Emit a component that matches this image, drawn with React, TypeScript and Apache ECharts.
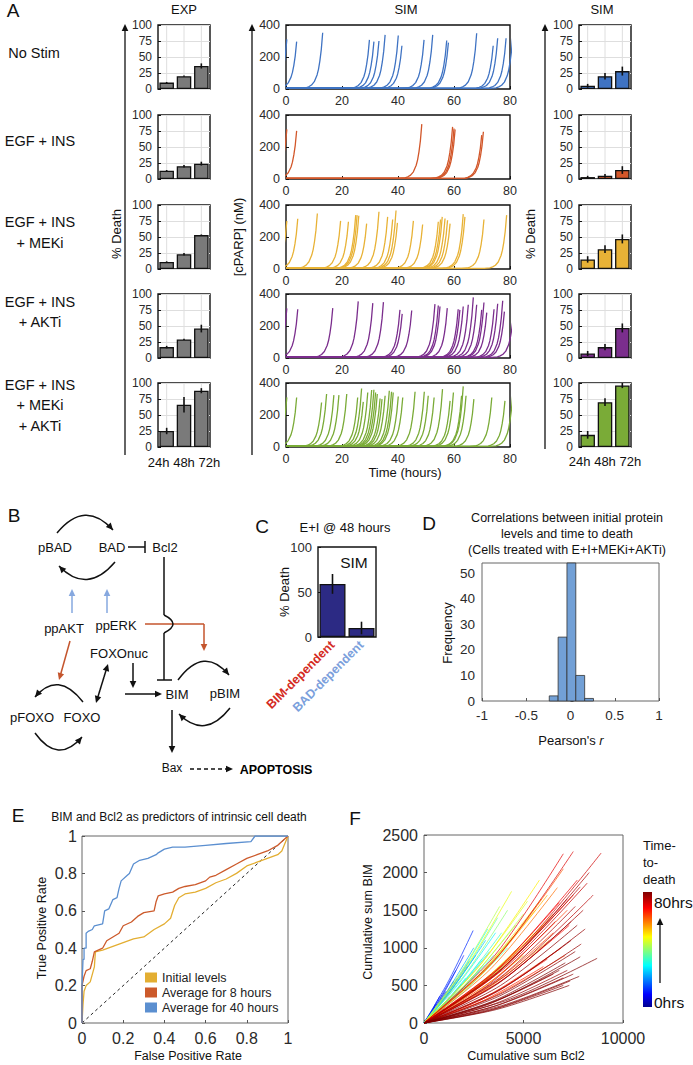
import React, { useEffect, useRef } from 'react';
import * as echarts from 'echarts';

const FONT = '"Liberation Sans", Arial, Helvetica, sans-serif';
const TXT = '#2a2a2a';

// ---------- Panel A data ----------
const CATS = ['24h', '48h', '72h'];
const ROW_LABELS = [['No Stim'], ['EGF + INS'], ['EGF + INS', '+ MEKi'], ['EGF + INS', '+ AKTi'], ['EGF + INS', '+ MEKi', '+ AKTi']];
const EXP_MEAN = [[10, 20, 36], [13, 20, 24], [11, 23, 53], [17, 29, 46], [25, 66, 88]];
const EXP_ERR = [[1, 1, 4], [1, 2, 3], [1, 2, 1], [2, 1, 6], [5, 12, 4]];
const SIM_MEAN = [[5, 20, 28], [3, 5, 14], [15, 31, 47], [7, 17, 47], [19, 70, 96]];
const SIM_ERR = [[3, 5, 7], [2, 3, 6], [5, 6, 7], [4, 5, 7], [6, 6, 4]];
const ROW_COLORS = ['#3f73c3', '#d2572a', '#e8b236', '#7b2e8d', '#7aab37'];
const EXP_COLOR = '#7a7a7a';

// cPARP rise shape (hours before death, fraction of peak)
const SHAPE_DT = [-8, -6, -5, -4, -3, -2, -1.5, -1, -0.5, 0];
const SHAPE_FRAC = [0, 0.02, 0.04, 0.07, 0.13, 0.25, 0.35, 0.5, 0.7, 1];
const BASELINE = 4;

// time of death (h) and peak cPARP (nM) per simulated cell, per condition
const TD_NOSTIM = [0.3, 3.8, 13.1, 29.8, 31.4, 33.2, 35.4, 40.1, 41.4, 49.3, 52.4, 57.4, 58, 68.1, 74, 75.6, 78.6, 81];
const PK_NOSTIM = [310, 296, 352, 307, 296, 300, 338, 334, 270, 307, 338, 303, 290, 348, 270, 317, 317, 330];
const TD_EI = [0.3, 3.8, 48.5, 59.5, 60, 60.4, 69.9, 70.5];
const PK_EI = [310, 301, 343, 326, 316, 309, 274, 295];
const TD_MEKI = [0.3, 4.2, 11.2, 19.5, 22.3, 24.9, 25.4, 26, 28.8, 33.2, 36.3, 38.1, 39.3, 39.8, 45.5, 48.8, 54.4, 55.2, 55.8, 56.8, 57.7, 58.6, 63.3, 63.9, 70.7, 78.8];
const PK_MEKI = [300, 314, 347, 301, 295, 337, 337, 333, 284, 358, 326, 309, 366, 288, 301, 278, 295, 309, 326, 316, 305, 284, 343, 326, 309, 337];
const TD_AKTI = [0.3, 4.2, 16.7, 25.8, 31, 34.8, 40.7, 41.5, 44.9, 53.2, 54.4, 55, 57.6, 61.5, 62.1, 63.3, 65.1, 66.9, 68.1, 69.9, 70.7, 71.7, 74.3, 75.6, 77.4, 78, 81.5];
const PK_AKTI = [310, 305, 312, 354, 343, 349, 301, 276, 297, 337, 328, 322, 312, 305, 301, 322, 333, 379, 333, 301, 347, 284, 305, 339, 358, 290, 330];
const TD_BOTH = [0.3, 3.8, 12.7, 14.5, 17.1, 18.9, 21.7, 25.6, 27, 27.6, 29.2, 30.6, 31.4, 32, 32.6, 33.6, 34.3, 35.4, 36.9, 37.7, 38.3, 40.1, 41.7, 46.1, 49.4, 50.8, 52.9, 55.9, 58.6, 59.8, 62.7, 63.3, 64.3, 67.1, 73.5, 78.2, 81];
const PK_BOTH = [310, 309, 278, 331, 324, 324, 331, 309, 366, 282, 341, 356, 358, 341, 331, 303, 299, 320, 352, 345, 341, 316, 309, 345, 345, 320, 309, 362, 288, 341, 320, 379, 320, 299, 309, 288, 330];
const SIM_TD = [TD_NOSTIM, TD_EI, TD_MEKI, TD_AKTI, TD_BOTH];
const SIM_PK = [PK_NOSTIM, PK_EI, PK_MEKI, PK_AKTI, PK_BOTH];

// ---------- Panel C ----------
const C_CATS = ['BIM-dependent', 'BAD-dependent'];
const C_MEAN = [59, 10];
const C_ERR = [11, 7];
const C_LABEL_COLORS = ['#d42a22', '#7b9fdc'];

// ---------- Panel D ----------
const HIST_LO = [-0.24, -0.14, -0.04, 0.06, 0.16];
const HIST_W = 0.1;
const HIST_COUNT = [2, 25, 54, 10, 1];

// ---------- Panel E ----------
const ROC_INITIAL = [[0, 0], [0.005, 0.1], [0.01, 0.17], [0.02, 0.2], [0.04, 0.22], [0.06, 0.3], [0.065, 0.38], [0.1, 0.39], [0.15, 0.41], [0.2, 0.43], [0.25, 0.45], [0.3, 0.46], [0.35, 0.5], [0.4, 0.53], [0.43, 0.56], [0.45, 0.63], [0.47, 0.67], [0.5, 0.69], [0.55, 0.7], [0.6, 0.72], [0.65, 0.75], [0.7, 0.77], [0.75, 0.8], [0.8, 0.84], [0.85, 0.86], [0.9, 0.88], [0.95, 0.9], [0.97, 0.92], [1, 1]];
const ROC_8H = [[0, 0], [0, 0.2], [0.01, 0.25], [0.02, 0.28], [0.04, 0.29], [0.05, 0.33], [0.06, 0.38], [0.1, 0.4], [0.12, 0.44], [0.15, 0.46], [0.18, 0.48], [0.2, 0.52], [0.24, 0.54], [0.27, 0.57], [0.3, 0.59], [0.35, 0.6], [0.36, 0.65], [0.37, 0.68], [0.4, 0.69], [0.44, 0.7], [0.47, 0.72], [0.5, 0.73], [0.55, 0.74], [0.6, 0.76], [0.62, 0.78], [0.65, 0.79], [0.7, 0.82], [0.75, 0.85], [0.8, 0.88], [0.85, 0.9], [0.9, 0.92], [0.95, 0.95], [1, 1]];
const ROC_40H = [[0, 0], [0, 0.2], [0.005, 0.34], [0.01, 0.34], [0.01, 0.4], [0.02, 0.4], [0.02, 0.48], [0.03, 0.49], [0.05, 0.5], [0.06, 0.52], [0.1, 0.53], [0.11, 0.6], [0.13, 0.61], [0.15, 0.66], [0.17, 0.67], [0.18, 0.72], [0.19, 0.76], [0.22, 0.79], [0.23, 0.8], [0.25, 0.85], [0.28, 0.87], [0.32, 0.88], [0.36, 0.9], [0.37, 0.91], [0.4, 0.93], [0.44, 0.94], [0.5, 0.94], [0.6, 0.95], [0.7, 0.96], [0.82, 0.97], [0.84, 1], [1, 1]];
const ROC_NAMES = ['Initial levels', 'Average for 8 hours', 'Average for 40 hours'];
const ROC_COLORS = ['#e3ae32', '#cc5a2b', '#5b8fd0'];

// ---------- Panel F: trajectories [end Bcl2, end BIM, BIM at half-way, time-to-death h] ----------
const F_LINES = [
  [600, 250, 110, 3], [900, 330, 150, 5], [1100, 420, 190, 6], [1300, 350, 160, 7], [1000, 200, 90, 8], [1500, 560, 250, 9],
  [1700, 600, 270, 10], [2000, 900, 400, 11], [2470, 1230, 560, 12], [1800, 480, 220, 13], [2200, 760, 340, 14], [1200, 280, 130, 15],
  [1600, 700, 330, 12], [800, 360, 170, 8],
  [1900, 520, 240, 18], [2300, 830, 380, 20], [2600, 900, 410, 22], [3100, 1100, 500, 24], [2800, 700, 320, 25], [3300, 950, 430, 26],
  [2100, 600, 270, 27], [3600, 1200, 540, 28], [2500, 1000, 460, 23], [3000, 780, 350, 21],
  [3200, 1250, 560, 30], [3500, 900, 400, 32], [3900, 1200, 530, 33], [4200, 1000, 440, 35], [3700, 1400, 620, 36], [4500, 1150, 500, 37],
  [2900, 850, 380, 31], [4000, 760, 330, 38],
  [4200, 1500, 660, 40], [4600, 1300, 570, 42], [5000, 1450, 630, 44], [4800, 1000, 430, 45], [5200, 1620, 700, 46], [4400, 1750, 780, 47],
  [5500, 1200, 510, 48], [3800, 1550, 700, 43],
  [5800, 1900, 800, 50], [5600, 1500, 640, 52], [6000, 1300, 540, 53], [6200, 1700, 700, 55], [5400, 1100, 460, 56], [6500, 1450, 600, 57],
  [5000, 900, 380, 54], [6300, 1100, 450, 58], [5900, 1650, 690, 51],
  [6700, 1800, 720, 60], [7000, 2050, 820, 62], [6500, 1200, 480, 63], [7200, 1500, 600, 64], [6900, 1000, 400, 65], [7500, 1700, 680, 66],
  [6200, 850, 340, 67], [7300, 1300, 520, 68], [6800, 1600, 640, 69], [7700, 1900, 760, 70], [6000, 750, 300, 66], [7100, 900, 360, 64],
  [7000, 2250, 880, 71], [7500, 2280, 900, 72], [8900, 2260, 880, 73], [8200, 1860, 740, 74], [7850, 1810, 720, 75], [7600, 1550, 600, 76],
  [7400, 1100, 420, 77], [7200, 700, 260, 78], [7350, 560, 200, 79], [7850, 880, 330, 80], [7500, 650, 240, 79], [7000, 600, 220, 78],
  [7300, 500, 180, 80], [8000, 1500, 580, 77], [8300, 2000, 780, 76], [7700, 1300, 500, 79], [6800, 700, 270, 80], [7900, 1050, 400, 78],
  [8500, 1700, 660, 75], [7100, 800, 300, 80], [7600, 950, 360, 79], [8100, 1250, 480, 78], [6500, 650, 250, 77], [7400, 1350, 520, 76],
  [8700, 860, 320, 80], [7800, 620, 230, 80], [7200, 1650, 640, 74], [6600, 1350, 520, 73], [7000, 500, 180, 79],
];
const TTD_MAX = 80;
const JET_STOPS: [number, string][] = [[0, '#00008f'], [0.11, '#0000ff'], [0.36, '#00ffff'], [0.61, '#ffff00'], [0.86, '#ff0000'], [1, '#800000']];

function hexToRgb(h: string) {
  return [parseInt(h.slice(1, 3), 16), parseInt(h.slice(3, 5), 16), parseInt(h.slice(5, 7), 16)];
}
function jet(t: number) {
  t = Math.max(0, Math.min(1, t));
  for (let i = 1; i < JET_STOPS.length; i++) {
    if (t <= JET_STOPS[i][0]) {
      const [t0, c0] = JET_STOPS[i - 1];
      const [t1, c1] = JET_STOPS[i];
      const f = (t - t0) / (t1 - t0);
      const a = hexToRgb(c0), b = hexToRgb(c1);
      const c = a.map((v, k) => Math.round(v + (b[k] - v) * f));
      return `rgb(${c[0]},${c[1]},${c[2]})`;
    }
  }
  return JET_STOPS[JET_STOPS.length - 1][1];
}

function txt(x: number, y: number, text: string, o: any = {}) {
  return {
    type: 'text', x, y, rotation: o.rotation || 0, silent: true, z: 50,
    style: {
      text, fontSize: o.size || 13, fontFamily: FONT, fill: o.color || '#111', fontWeight: o.weight || 'normal',
      align: o.align || 'center', verticalAlign: 'middle', textAlign: o.align || 'center', textVerticalAlign: 'middle',
      rich: o.rich,
    },
  };
}
function head(tx: number, ty: number, ang: number, color: string, len = 7, w = 3.3) {
  const c = Math.cos(ang), s = Math.sin(ang);
  return {
    type: 'polygon', silent: true, z: 50,
    shape: { points: [[tx, ty], [tx - len * c + w * s, ty - len * s - w * c], [tx - len * c - w * s, ty - len * s + w * c]] },
    style: { fill: color },
  };
}
function seg(x1: number, y1: number, x2: number, y2: number, color = '#111', lw = 1.5, dash?: number[]) {
  return { type: 'line', silent: true, z: 50, shape: { x1, y1, x2, y2 }, style: { stroke: color, lineWidth: lw, lineDash: dash } };
}
function arrow(x1: number, y1: number, x2: number, y2: number, color = '#111', lw = 1.5, dash?: number[]) {
  const ang = Math.atan2(y2 - y1, x2 - x1);
  return [seg(x1, y1, x2 - 5 * Math.cos(ang), y2 - 5 * Math.sin(ang), color, lw, dash), head(x2, y2, ang, color)];
}
function arc(x1: number, y1: number, cx: number, cy: number, x2: number, y2: number) {
  const ang = Math.atan2(y2 - cy, x2 - cx);
  return [
    { type: 'bezierCurve', silent: true, z: 50, shape: { x1, y1, x2, y2, cpx1: cx, cpy1: cy }, style: { stroke: '#111', lineWidth: 1.5, fill: null } },
    head(x2, y2, ang, '#111'),
  ];
}

const plain = (v: number) => String(v);

function buildOption() {
  const grid: any[] = [];
  const xAxis: any[] = [];
  const yAxis: any[] = [];
  const series: any[] = [];
  const els: any[] = [];
  let gi = 0;
  const addGrid = (left: number, top: number, width: number, height: number, xa: any, ya: any, border = '#111', bw = 1.4) => {
    grid.push({ left, top, width, height, show: true, borderColor: border, borderWidth: bw, backgroundColor: '#fff' });
    xAxis.push({ ...xa, gridIndex: gi });
    yAxis.push({ ...ya, gridIndex: gi });
    return gi++;
  };
  const tick = (color = '#111') => ({ show: true, inside: true, length: 3, lineStyle: { color, width: 1 } });
  const lab = (size: number, margin: number, extra: any = {}) => ({ fontSize: size, color: TXT, margin, fontFamily: FONT, ...extra });

  const vgrid = (params: any, api: any) => {
    const a = api.coord([api.value(0), 100]);
    const b = api.coord([api.value(0), 0]);
    return { type: 'line', shape: { x1: a[0], y1: a[1], x2: b[0], y2: b[1] }, style: { stroke: '#dedede', lineWidth: 1 } };
  };
  const errBar = (params: any, api: any) => {
    const a = api.coord([api.value(0), api.value(1)]);
    const b = api.coord([api.value(0), api.value(2)]);
    return { type: 'line', shape: { x1: a[0], y1: a[1], x2: b[0], y2: b[1] }, style: { stroke: '#111', lineWidth: 1.6 } };
  };

  const ROW_TOPS = [25, 115, 205, 294, 383];
  const ROW_H = 64;

  const addBarPanel = (left: number, top: number, means: number[], errs: number[], color: string) => {
    const idx = addGrid(left, top, 52, ROW_H,
      { type: 'category', data: CATS, axisLine: { show: false }, axisTick: { show: false }, axisLabel: { show: false } },
      {
        type: 'value', min: 0, max: 100, interval: 25, axisLine: { show: false }, axisTick: tick(),
        axisLabel: lab(12, 6), splitLine: { show: true, lineStyle: { color: '#dedede', width: 1 } },
      });
    series.push({ type: 'custom', xAxisIndex: idx, yAxisIndex: idx, z: 1, silent: true, data: CATS.map((c, i) => [i, 0]), renderItem: vgrid });
    series.push({
      type: 'bar', xAxisIndex: idx, yAxisIndex: idx, data: means, barWidth: '84%', z: 2, silent: true,
      itemStyle: { color, borderColor: '#111', borderWidth: 1.3 },
    });
    series.push({
      type: 'custom', xAxisIndex: idx, yAxisIndex: idx, z: 3, silent: true, encode: { x: 0, y: [1, 2] },
      data: means.map((m, i) => [i, Math.max(0, m - errs[i]), m + errs[i]]), renderItem: errBar,
    });
  };

  const addLinePanel = (top: number, tds: number[], pks: number[], color: string) => {
    const idx = addGrid(286, top, 224, ROW_H,
      { type: 'value', min: 0, max: 80, interval: 20, axisLine: { show: false }, axisTick: tick(), axisLabel: lab(12.5, 5), splitLine: { show: false } },
      { type: 'value', min: 0, max: 400, interval: 200, axisLine: { show: false }, axisTick: tick(), axisLabel: lab(12.5, 6), splitLine: { show: false } });
    tds.forEach((td, k) => {
      const pk = pks[k];
      const pts: number[][] = [];
      if (td + SHAPE_DT[0] > 0) pts.push([0, BASELINE]);
      SHAPE_DT.forEach((dt, j) => pts.push([td + dt, Math.max(BASELINE, SHAPE_FRAC[j] * pk)]));
      series.push({
        type: 'line', xAxisIndex: idx, yAxisIndex: idx, data: pts, showSymbol: false, symbol: 'none', silent: true, clip: true,
        lineStyle: { color, width: 1.3 }, itemStyle: { color },
      });
    });
  };

  for (let r = 0; r < 5; r++) {
    addBarPanel(158, ROW_TOPS[r], EXP_MEAN[r], EXP_ERR[r], EXP_COLOR);
    addLinePanel(ROW_TOPS[r], SIM_TD[r], SIM_PK[r], ROW_COLORS[r]);
    addBarPanel(579, ROW_TOPS[r], SIM_MEAN[r], SIM_ERR[r], ROW_COLORS[r]);
  }

  // ---- Panel C
  const cIdx = addGrid(318, 547, 58, 90,
    {
      type: 'category', data: C_CATS, axisLine: { show: false }, axisTick: { show: false },
      axisLabel: lab(12.5, 6, { rotate: 45, fontWeight: 'bold', color: (v: any, i: number) => C_LABEL_COLORS[i] }),
    },
    { type: 'value', min: 0, max: 100, interval: 50, axisLine: { show: false }, axisTick: tick(), axisLabel: lab(13, 6), splitLine: { show: false } });
  series.push({
    type: 'bar', xAxisIndex: cIdx, yAxisIndex: cIdx, data: C_MEAN, barWidth: 26, silent: true,
    itemStyle: { color: '#2c2a84', borderColor: '#111', borderWidth: 1.3 },
  });
  series.push({
    type: 'custom', xAxisIndex: cIdx, yAxisIndex: cIdx, z: 3, silent: true, encode: { x: 0, y: [1, 2] },
    data: C_MEAN.map((m, i) => [i, Math.max(0, m - C_ERR[i]), m + C_ERR[i]]), renderItem: errBar,
  });

  // ---- Panel D
  const dIdx = addGrid(482, 563, 177, 138,
    { type: 'value', min: -1, max: 1, interval: 0.5, axisLine: { show: false }, axisTick: tick('#555'), axisLabel: lab(13.5, 7), splitLine: { show: false } },
    { type: 'value', min: 0, max: 54, interval: 10, axisLine: { show: false }, axisTick: tick('#555'), axisLabel: lab(13.5, 7, { showMaxLabel: false }), splitLine: { show: false } },
    '#666', 1);
  series.push({
    type: 'custom', xAxisIndex: dIdx, yAxisIndex: dIdx, silent: true, encode: { x: [0, 1], y: 2 },
    data: HIST_LO.map((lo, i) => [lo, lo + HIST_W, HIST_COUNT[i]]),
    renderItem: (p: any, api: any) => {
      const a = api.coord([api.value(0), api.value(2)]);
      const b = api.coord([api.value(1), 0]);
      return { type: 'rect', shape: { x: a[0], y: a[1], width: b[0] - a[0], height: b[1] - a[1] }, style: { fill: '#72a0d6', stroke: '#333', lineWidth: 0.8 } };
    },
  });

  // ---- Panel E
  const eIdx = addGrid(82, 836, 206, 187,
    { type: 'value', min: 0, max: 1, interval: 0.2, axisLine: { show: false }, axisTick: tick('#555'), axisLabel: lab(16, 7), splitLine: { show: false } },
    { type: 'value', min: 0, max: 1, interval: 0.2, axisLine: { show: false }, axisTick: tick('#555'), axisLabel: lab(16, 5), splitLine: { show: false } },
    '#666', 1);
  series.push({
    type: 'line', xAxisIndex: eIdx, yAxisIndex: eIdx, data: [[0, 0], [1, 1]], showSymbol: false, symbol: 'none', silent: true,
    lineStyle: { color: '#222', width: 1, type: [3, 3] },
  });
  [ROC_INITIAL, ROC_8H, ROC_40H].forEach((d, i) => {
    series.push({
      type: 'line', name: ROC_NAMES[i], xAxisIndex: eIdx, yAxisIndex: eIdx, data: d, showSymbol: false, symbol: 'none', silent: true,
      lineStyle: { color: ROC_COLORS[i], width: 1.3 }, itemStyle: { color: ROC_COLORS[i] },
    });
  });

  // ---- Panel F
  const fIdx = addGrid(424, 835, 199, 188,
    { type: 'value', min: 0, max: 10000, interval: 5000, axisLine: { show: false }, axisTick: tick('#555'), axisLabel: lab(16, 7, { formatter: plain }), splitLine: { show: false } },
    { type: 'value', min: 0, max: 2500, interval: 500, axisLine: { show: false }, axisTick: tick('#555'), axisLabel: lab(16, 6, { formatter: plain }), splitLine: { show: false } },
    '#666', 1);
  F_LINES.slice().sort((a, b) => a[3] - b[3]).forEach(([ex, ey, my, t]) => {
    series.push({
      type: 'line', xAxisIndex: fIdx, yAxisIndex: fIdx, data: [[0, 0], [ex / 2, my], [ex, ey]], smooth: 0.3,
      showSymbol: false, symbol: 'none', silent: true, lineStyle: { width: 0.8, color: jet(t / TTD_MAX), opacity: 0.9 },
    });
  });

  // ---------- Texts & drawings ----------
  // Panel A
  els.push(txt(13, 10, 'A', { size: 19 }));
  els.push(txt(184, 9, 'EXP', { size: 13 }));
  els.push(txt(406, 9, 'SIM', { size: 13 }));
  els.push(txt(602, 9, 'SIM', { size: 13 }));
  const rowLabelY = [[53], [141], [222, 243], [302, 322], [385, 405, 426]];
  ROW_LABELS.forEach((lines, r) => lines.forEach((l, k) => els.push(txt(r === 0 ? 34 : 40, rowLabelY[r][k], l, { size: 14.5 }))));
  els.push(txt(116, 234, '% Death', { size: 13, rotation: Math.PI / 2 }));
  els.push(txt(238, 237, '[cPARP] (nM)', { size: 13, rotation: Math.PI / 2 }));
  els.push(txt(530, 234, '% Death', { size: 13, rotation: Math.PI / 2 }));
  els.push(txt(184, 462, CATS.join(' '), { size: 13 }));
  els.push(txt(605, 461, CATS.join(' '), { size: 13 }));
  els.push(txt(405, 472, 'Time (hours)', { size: 13 }));
  els.push(...arrow(125, 455, 125, 24, '#111', 1.3));
  els.push(...arrow(252, 455, 252, 24, '#111', 1.3));
  els.push(...arrow(545, 449, 545, 24, '#111', 1.3));

  // Panel B
  els.push(txt(14, 515, 'B', { size: 19 }));
  els.push(txt(55, 547, 'pBAD'), txt(112, 547, 'BAD'), txt(165, 547, 'Bcl2'));
  els.push(txt(64, 628, 'ppAKT'), txt(116, 625, 'ppERK'), txt(119, 653, 'FOXOnuc'));
  els.push(txt(177, 694, 'BIM'), txt(225, 693, 'pBIM'), txt(32, 717, 'pFOXO'), txt(82, 717, 'FOXO'));
  els.push(txt(172, 768, 'Bax', { size: 12 }), txt(276, 770, 'APOPTOSIS', { size: 12.5, weight: 'bold', color: '#000' }));
  els.push(...arc(57, 533, 85, 499, 113, 530));
  els.push(...arc(115, 562, 87, 595, 59, 566));
  els.push(seg(128, 547, 145, 547), seg(145, 541, 145, 553));
  els.push(...arrow(72, 613, 72, 589, '#86a8df'));
  els.push(...arrow(107, 613, 107, 589, '#86a8df'));
  els.push(seg(145, 624, 204, 624, '#c4552d'), ...arrow(204, 624, 204, 651, '#c4552d'));
  els.push(...arrow(70, 641, 59, 680, '#c4552d'));
  els.push(seg(164, 557, 164, 615));
  els.push({ type: 'bezierCurve', silent: true, z: 50, shape: { x1: 164, y1: 615, x2: 164, y2: 633, cpx1: 182, cpy1: 624 }, style: { stroke: '#111', lineWidth: 1.5, fill: null } });
  els.push(seg(164, 633, 164, 680), seg(157, 680, 172, 680));
  els.push(...arrow(133, 663, 133, 688));
  els.push(...arrow(125, 694, 162, 694));
  els.push(...arrow(100, 690, 96, 703), ...arrow(104, 677, 108, 664));
  els.push(seg(100, 690, 104, 677));
  els.push(...arc(178, 680, 204, 645, 229, 675));
  els.push(...arc(230, 708, 205, 740, 179, 714));
  els.push(...arc(83, 702, 58, 670, 35, 697));
  els.push(...arc(35, 733, 58, 765, 82, 737));
  els.push(...arrow(172, 710, 172, 753));
  els.push(...arrow(190, 769, 233, 769, '#111', 1.5, [4, 3]));

  // Panel C
  els.push(txt(262, 526, 'C', { size: 19 }));
  els.push(txt(345, 527, 'E+I @ 48 hours', { size: 13 }));
  els.push(txt(284, 592, '% Death', { size: 13, rotation: Math.PI / 2 }));
  els.push(txt(354, 562, 'SIM', { size: 15.5 }));

  // Panel D
  els.push(txt(429, 523, 'D', { size: 19 }));
  els.push(txt(567, 518, 'Correlations between initial protein', { size: 12.5 }));
  els.push(txt(567, 534, 'levels and time to death', { size: 12.5 }));
  els.push(txt(567, 550, '(Cells treated with E+I+MEKi+AKTi)', { size: 12.5 }));
  els.push(txt(447, 633, 'Frequency', { size: 13, rotation: Math.PI / 2 }));
  els.push(txt(571, 740, "{a|Pearson's }{b|r}", {
    size: 13, rich: { a: { fontSize: 13, fontFamily: FONT, fill: '#111' }, b: { fontSize: 13, fontFamily: FONT, fontStyle: 'italic', fill: '#111' } },
  }));

  // Panel E
  els.push(txt(18, 815, 'E', { size: 19 }));
  els.push(txt(179, 817, 'BIM and Bcl2 as predictors of intrinsic cell death', { size: 12 }));
  els.push(txt(42, 928, 'True Positive Rate', { size: 12.5, rotation: Math.PI / 2 }));
  els.push(txt(188, 1056, 'False Positive Rate', { size: 12.5 }));

  // Panel F
  els.push(txt(355, 818, 'F', { size: 19 }));
  els.push(txt(368, 922, 'Cumulative sum BIM', { size: 12.5, rotation: Math.PI / 2 }));
  els.push(txt(526, 1056, 'Cumulative sum Bcl2', { size: 12.5 }));
  els.push(txt(643, 845, 'Time-', { size: 13, align: 'left' }));
  els.push(txt(643, 862, 'to-', { size: 13, align: 'left' }));
  els.push(txt(643, 879, 'death', { size: 13, align: 'left' }));
  els.push({
    type: 'rect', silent: true, z: 50, shape: { x: 643, y: 892, width: 9, height: 115 },
    style: {
      fill: new echarts.graphic.LinearGradient(0, 0, 0, 1, JET_STOPS.map(([o, c]) => ({ offset: 1 - o, color: c })).reverse()),
    },
  });
  els.push(txt(654, 902, '80hrs', { size: 15.5, align: 'left' }));
  els.push(txt(654, 1002, '0hrs', { size: 15.5, align: 'left' }));
  els.push(...arrow(660, 983, 660, 918, '#111', 1.3));

  return {
    animation: false,
    backgroundColor: '#fff',
    textStyle: { fontFamily: FONT },
    grid, xAxis, yAxis, series,
    legend: {
      data: ROC_NAMES, orient: 'vertical', left: 145, top: 971, itemWidth: 12, itemHeight: 10, itemGap: 2, icon: 'rect',
      selectedMode: false, textStyle: { fontSize: 12.5, color: '#222', fontFamily: FONT }, padding: 0,
    },
    graphic: { elements: els },
  };
}

export default function App() {
  const ref = useRef<HTMLDivElement>(null);
  useEffect(() => {
    if (!ref.current) return;
    const chart = echarts.init(ref.current, undefined, { renderer: 'svg' });
    chart.setOption(buildOption() as any);
    return () => chart.dispose();
  }, []);
  return <div ref={ref} style={{ position: 'absolute', left: 0, top: 0, width: 693, height: 1065, background: '#fff' }} />;
}
